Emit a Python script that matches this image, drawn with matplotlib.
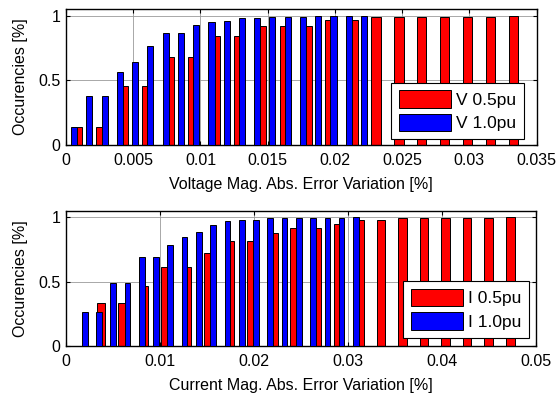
import matplotlib.pyplot as plt
from matplotlib.patches import Patch

plt.rcParams['font.family'] = ['Liberation Sans', 'DejaVu Sans']

# voltage: bin centres and cumulative occurrence
v05_x = [0.00085, 0.00256, 0.00427, 0.00598, 0.00768, 0.00939, 0.0111, 0.0128,
         0.01451, 0.01622, 0.01793, 0.01963, 0.02134, 0.02305, 0.02476, 0.02646,
         0.02817, 0.02988, 0.03158, 0.03329]
v05_y = [0.14, 0.14, 0.452, 0.452, 0.677, 0.677, 0.845, 0.845, 0.917, 0.917,
         0.917, 0.966, 0.966, 0.99, 0.99, 0.99, 0.99, 0.99, 0.99, 1.0]
v10_x = [0.00061, 0.00174, 0.00288, 0.00401, 0.00515, 0.00628, 0.00742, 0.00855,
         0.00968, 0.01082, 0.01195, 0.01309, 0.01422, 0.01535, 0.01649, 0.01762,
         0.01876, 0.01989, 0.02102, 0.02216]
v10_y = [0.136, 0.378, 0.378, 0.567, 0.638, 0.764, 0.863, 0.863, 0.927, 0.948,
         0.958, 0.979, 0.979, 0.989, 0.989, 0.989, 0.996, 0.996, 0.996, 0.996]

# current
i05_x = [0.00371, 0.00600, 0.00830, 0.01059, 0.01289, 0.01518, 0.01748, 0.01977,
         0.02207, 0.02436, 0.02666, 0.02895, 0.03125, 0.03354, 0.03584, 0.03813,
         0.04043, 0.04272, 0.04502, 0.04731]
i05_y = [0.33, 0.33, 0.464, 0.61, 0.61, 0.724, 0.817, 0.817, 0.879, 0.92,
         0.918, 0.949, 0.975, 0.975, 0.995, 0.995, 0.995, 0.995, 0.995, 1.0]
i10_x = [0.00199, 0.00351, 0.00503, 0.00655, 0.00807, 0.00959, 0.01111, 0.01263,
         0.01415, 0.01567, 0.01719, 0.01871, 0.02023, 0.02175, 0.02327, 0.02479,
         0.02631, 0.02783, 0.02935, 0.03087]
i10_y = [0.265, 0.265, 0.49, 0.49, 0.69, 0.69, 0.786, 0.848, 0.889, 0.94,
         0.967, 0.982, 0.982, 0.995, 0.995, 0.995, 0.995, 0.995, 0.995, 1.0]

v_ticks = [0, 0.005, 0.01, 0.015, 0.02, 0.025, 0.03, 0.035]
i_ticks = [0, 0.01, 0.02, 0.03, 0.04, 0.05]
y_ticks = [0, 0.5, 1]

fig = plt.figure(figsize=(5.57, 3.94), dpi=100)
ax1 = fig.add_axes([0.1185, 0.632, 0.845, 0.345])
ax2 = fig.add_axes([0.1185, 0.122, 0.843, 0.343])

fs = 11.5


def draw(ax, x05, y05, x10, y10, xt, xlabel, names, anchor):
    w05 = 0.4 * (x05[1] - x05[0])
    w10 = 0.4 * (x10[1] - x10[0])
    ax.bar(x05, y05, width=w05, color='#ff0000', edgecolor='black', linewidth=0.7, zorder=2)
    ax.bar(x10, y10, width=w10, color='#0000ff', edgecolor='black', linewidth=0.7, zorder=3)
    ax.set_xlim(xt[0], xt[-1])
    ax.set_ylim(0, 1.05)
    ax.set_xticks(xt)
    ax.set_xticklabels(['%g' % t for t in xt])
    ax.set_yticks(y_ticks)
    ax.set_yticklabels(['0', '0.5', '1'])
    ax.tick_params(direction='in', top=True, right=True, length=3, labelsize=fs, pad=4)
    ax.tick_params(axis='x', pad=6)
    ax.grid(True, color='#9a9a9a', linewidth=0.6, zorder=0)
    ax.set_axisbelow(True)
    for s in ax.spines.values():
        s.set_linewidth(1.0)
    ax.set_xlabel(xlabel, fontsize=fs, labelpad=6)
    ax.set_ylabel('Occurencies [%]', fontsize=fs, labelpad=7)
    handles = [Patch(facecolor='#ff0000', edgecolor='black', linewidth=0.7, label=names[0]),
               Patch(facecolor='#0000ff', edgecolor='black', linewidth=0.7, label=names[1])]
    leg = ax.legend(handles=handles, loc='lower right', bbox_to_anchor=anchor, fontsize=12.5,
                    handlelength=3.0, handleheight=1.15, handletextpad=0.3,
                    borderpad=0.45, labelspacing=0.35, fancybox=False, framealpha=1,
                    edgecolor='black', borderaxespad=0)
    leg.get_frame().set_linewidth(0.8)
    leg.set_zorder(5)


draw(ax1, v05_x, v05_y, v10_x, v10_y, v_ticks,
     'Voltage Mag. Abs. Error Variation [%]', ['V 0.5pu', 'V 1.0pu'], (0.973, 0.042))
draw(ax2, i05_x, i05_y, i10_x, i10_y, i_ticks,
     'Current Mag. Abs. Error Variation [%]', ['I 0.5pu', 'I 1.0pu'], (0.987, 0.061))

fig.savefig('out.png', dpi=100)
